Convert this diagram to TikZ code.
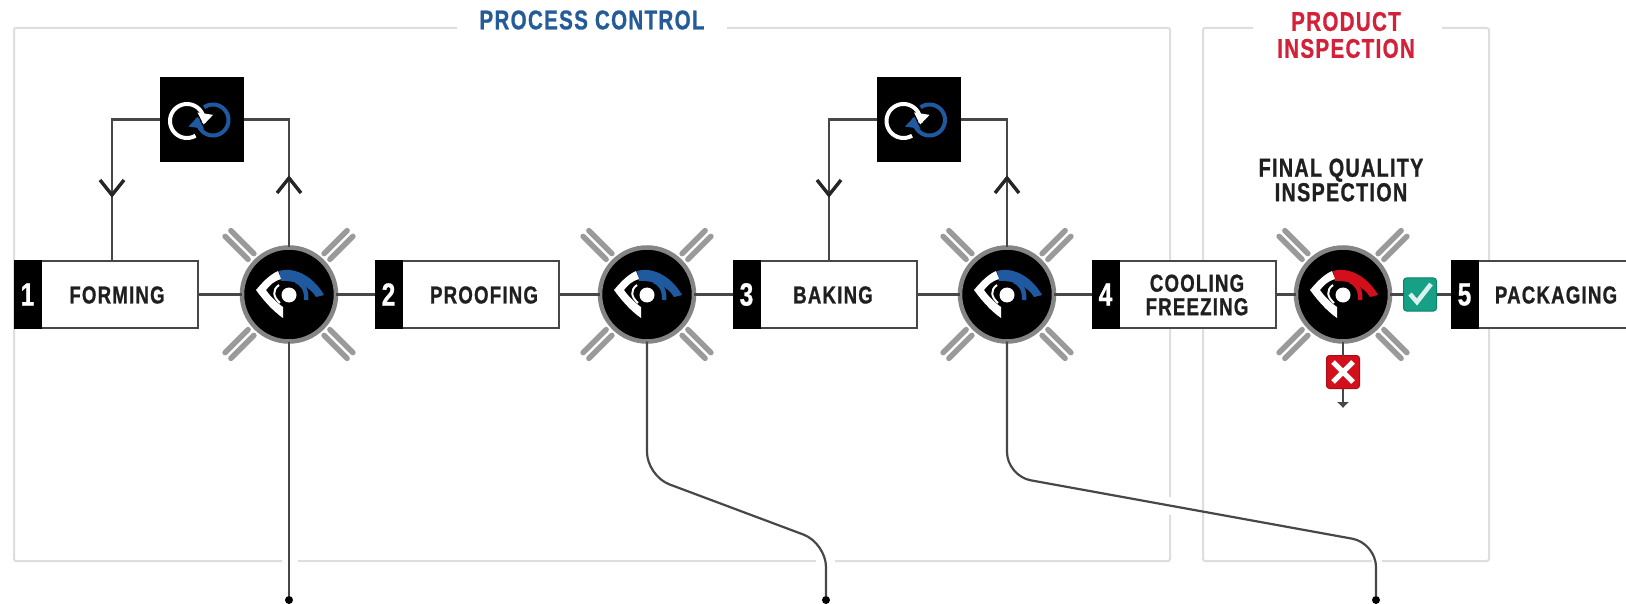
\documentclass[tikz,border=0pt]{standalone}
\usepackage{fontspec}
\newfontfamily\lab[FakeStretch=.76,LetterSpace=5,BoldFeatures={FakeBold=.9}]{Liberation Sans}
\usetikzlibrary{arrows.meta}
\definecolor{wirec}{HTML}{474747}
\definecolor{framec}{HTML}{DEDEDE}
\definecolor{spokec}{HTML}{9A9A9A}
\definecolor{ringc}{HTML}{858585}
\definecolor{blueb}{HTML}{1F5AA0}
\definecolor{redb}{HTML}{D40F1C}
\definecolor{titleblue}{HTML}{245C99}
\definecolor{titlered}{HTML}{D4213A}
\definecolor{okc}{HTML}{16A085}
\tikzset{
  x=1pt,y=-1pt,
  wire/.style={draw=wirec,line width=2.2pt},
  frameline/.style={draw=framec,line width=2pt,rounded corners=2pt},
  stagebox/.style={draw=wirec,fill=white,line width=2.2pt,minimum width=157pt,minimum height=67pt,inner sep=0pt,outer sep=0pt},
  numcell/.style={draw=black,fill=black,line width=.5pt,minimum width=27pt,minimum height=68pt,inner sep=0pt,outer sep=0pt,text=white,font=\lab\bfseries\fontsize{32}{32}\selectfont},
  stagetext/.style={inner sep=0pt,align=center,text=black!88,font=\lab\bfseries\fontsize{24.5}{23.5}\selectfont},
  finaltext/.style={inner sep=0pt,align=center,text=black!88,font=\lab\bfseries\fontsize{26}{24.5}\selectfont},
  titletext/.style={inner sep=0pt,align=center,font=\lab\bfseries\fontsize{27}{27}\selectfont},
  hubnode/.style={circle,fill=black,draw=ringc,line width=4.5pt,minimum size=94pt,inner sep=0pt,outer sep=0pt},
  loopnode/.style={fill=black,minimum width=84pt,minimum height=85pt,inner sep=0pt,outer sep=0pt},
  enddot/.style={circle,fill=black,minimum size=8pt,inner sep=0pt,outer sep=0pt},
  spoke/.style={draw=spokec,line width=5.5pt,line cap=round},
  statusok/.style={rounded corners=3pt,fill=okc,draw=okc!80!black,line width=1pt,minimum size=33pt,inner sep=0pt,outer sep=0pt},
  statusbad/.style={rounded corners=3pt,fill=redb,draw=redb!80!black,line width=1pt,minimum size=33pt,inner sep=0pt,outer sep=0pt},
  barbline/.style={draw=black!85,line width=3.4pt,line join=miter},
}
\newcommand{\hubat}[3]{%
  \begin{scope}[shift={(#2,294.5)}]
    \foreach \sx/\sy in {-1/-1,1/-1,-1/1,1/1}{
      \draw[spoke] ({\sx*38-\sy*2.9},{\sy*38+\sx*2.9}) -- ({\sx*61-\sy*2.9},{\sy*61+\sx*2.9});
      \draw[spoke] ({\sx*38+\sy*2.9},{\sy*38-\sx*2.9}) -- ({\sx*61+\sy*2.9},{\sy*61-\sx*2.9});
    }
  \end{scope}
  \node[hubnode] (#1) at (#2,294.5) {};
  \begin{scope}[shift={(#2,294)}]
    \fill[#3] (-10,-23) .. controls (8,-28) and (26,-15) .. (35,1) -- (27,3) .. controls (21,-7) and (8,-14) .. (-8,-13) -- cycle;
    \draw[#3,line width=4.5pt] (7,-13) .. controls (14,-10) and (18,-4) .. (17,6);
    \fill[white] (-11,-23) .. controls (-20,-19) and (-27,-11) .. (-33,-4) .. controls (-25,7) and (-16,17) .. (-6,24) -- (-6,13) .. controls (-13,8) and (-19,2) .. (-23,-4) .. controls (-19,-9) and (-15,-13) .. (-8,-15) -- cycle;
    \draw[white,line width=2pt] (-10,-9) .. controls (-17,-4) and (-16,3) .. (-9,9);
    \fill[white] (0,1) circle (7.5);
  \end{scope}
}
\newcommand{\loopat}[2]{%
  \node[loopnode] (#1) at (#2,119.5) {};
  \begin{scope}[shift={(#2,120)}]
    \draw[blueb,line width=4pt,-{Triangle[length=11pt,width=15pt]}] plot[domain=-125:192,samples=50] ({11+15.5*cos(\x)},{15.5*sin(\x)});
    \draw[white,line width=4pt,-{Triangle[length=11pt,width=15pt]}] plot[domain=60:372,samples=50] ({-15+17*cos(\x)},{1+17*sin(\x)});
  \end{scope}
}
\newcommand{\stage}[5]{% name, left x, number, label x, label
  \node[stagebox,anchor=west] (#1) at (#2+27,294.5) {};
  \node[numcell,anchor=west] (#1n) at (#2,294.5) {#3};
  \node[stagetext] (#1t) at (#4,295) {#5};
}
\begin{document}
\begin{tikzpicture}
\useasboundingbox (0,0) rectangle (1626,604);
\fill[white] (0,0) rectangle (1626,604);
% frames
\draw[frameline] (457,28) -- (14,28) -- (14,561) -- (282,561);
\draw[frameline] (298,561) -- (816,561);
\draw[frameline] (835,561) -- (1170,561) -- (1170,515);
\draw[frameline] (1170,497) -- (1170,28) -- (727,28);
\draw[frameline] (1253,28) -- (1203,28) -- (1203,561) -- (1372,561);
\draw[frameline] (1382,561) -- (1489,561) -- (1489,28) -- (1442,28);
% titles
\node[titletext,text=titleblue] (tprocess) at (592,20) {PROCESS CONTROL};
\node[titletext,text=titlered] (tproduct) at (1346,35) {PRODUCT\\INSPECTION};
\node[finaltext] (tfinal) at (1341,180) {FINAL QUALITY\\INSPECTION};
% stages
\stage{s1}{14}{1}{117}{FORMING}
\stage{s2}{375}{2}{484}{PROOFING}
\stage{s3}{733}{3}{833}{BAKING}
\stage{s4}{1092}{4}{1197}{COOLING\\FREEZING}
\node[stagebox,anchor=west,minimum width=170pt] (s5) at (1478,294.5) {};
\node[numcell,anchor=west] (s5n) at (1451,294.5) {5};
\node[stagetext] (s5t) at (1556,295) {PACKAGING};
% hubs
\hubat{h1}{289}{blueb}
\hubat{h2}{647}{blueb}
\hubat{h3}{1007}{blueb}
\hubat{h4}{1343}{redb}
% loops
\loopat{l1}{202}
\loopat{l2}{918.5}
% statuses
\node[statusok] (ok) at (1420,294.5) {};
\draw[white!85!okc,line width=4.5pt] (1410,294) -- (1417,302) -- (1431,284);
\node[statusbad] (bad) at (1343,372) {};
\draw[white,line width=5pt] (1333,362) -- (1353,382) (1353,362) -- (1333,382);
% end points and free coordinates
\node[enddot] (e1) at (289,600) {};
\node[enddot] (e2) at (826,600) {};
\node[enddot] (e3) at (1376,600) {};
\coordinate (a1) at (112,195);
\coordinate (b1) at (112,261);
\coordinate (u1) at (289,178);
\coordinate (a2) at (829,195);
\coordinate (b2) at (829,261);
\coordinate (u2) at (1007,178);
\coordinate (q) at (1343,408);
% process line
\draw[wire] (s1.east) -- (h1.west);
\draw[wire] (h1.east) -- (s2n.west);
\draw[wire] (s2.east) -- (h2.west);
\draw[wire] (h2.east) -- (s3n.west);
\draw[wire] (s3.east) -- (h3.west);
\draw[wire] (h3.east) -- (s4n.west);
\draw[wire] (s4.east) -- (h4.west);
\draw[wire] (h4.east) -- (ok.west);
\draw[wire] (ok.east) -- (s5n.west);
\draw[wire] (h4.south) -- (bad.north);
\draw[wire,-{Latex[length=6pt,width=13pt]}] (bad.south) -- (q);
% feedback loops
\draw[wire] (l1.west) -| (b1);
\draw[barbline] (a1) ++(-12,-15) -- (a1) -- ++(12,-15);
\draw[wire] (h1.north) |- (l1.east);
\draw[barbline] (u1) ++(-12,15) -- (u1) -- ++(12,15);
\draw[wire] (l2.west) -| (b2);
\draw[barbline] (a2) ++(-12,-15) -- (a2) -- ++(12,-15);
\draw[wire] (h3.north) |- (l2.east);
\draw[barbline] (u2) ++(-12,15) -- (u2) -- ++(12,15);
% outputs
\draw[wire] (h1.south) -- (e1.north);
\draw[wire,rounded corners=24pt] (h2.south) -- (647,476) -- (826,543) -- (e2.north);
\draw[wire,rounded corners=24pt] (h3.south) -- (1007,476) -- (1376,543) -- (e3.north);
\end{tikzpicture}
\end{document}
